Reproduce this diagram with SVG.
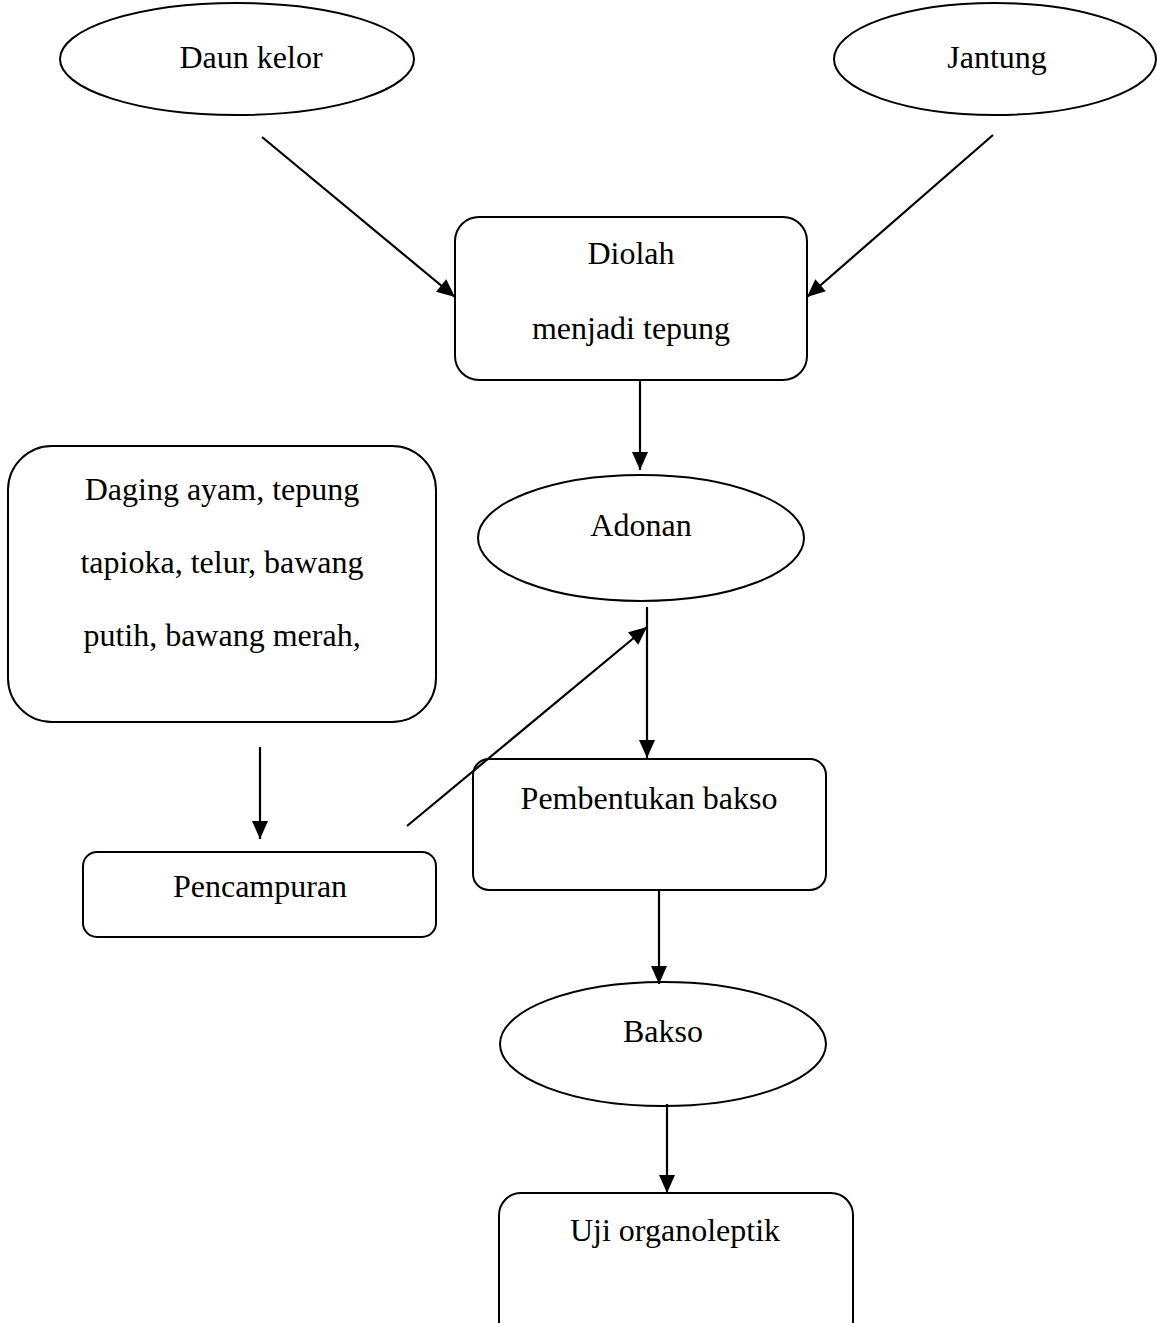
<svg xmlns="http://www.w3.org/2000/svg" width="1157" height="1323" viewBox="0 0 1157 1323">
<defs>
<marker id="ah" markerUnits="userSpaceOnUse" markerWidth="20" markerHeight="18" refX="18" refY="9" orient="auto" overflow="visible">
<path d="M0,1 L18,9 L0,17 Z" fill="#000"/>
</marker>
<style>
.n{fill:#fff;stroke:#000;stroke-width:2}
.t{font-family:"Liberation Serif","Times New Roman",serif;font-size:32px;fill:#000;text-anchor:middle}
.c{stroke:#000;stroke-width:2.2;fill:none;marker-end:url(#ah)}
</style>
</defs>
<rect width="1157" height="1323" fill="#fff"/>
<g id="daun-kelor">
<ellipse class="n" cx="237" cy="59" rx="177" ry="56"/>
<text class="t" x="251" y="68">Daun kelor</text>
</g>
<g id="jantung">
<ellipse class="n" cx="995" cy="59" rx="161" ry="56"/>
<text class="t" x="997" y="68">Jantung</text>
</g>
<g id="diolah">
<rect class="n" x="455" y="217" width="352" height="163" rx="24"/>
<text class="t" x="631" y="264">Diolah</text>
<text class="t" x="631" y="339">menjadi tepung</text>
</g>
<g id="bahan">
<rect class="n" x="8" y="446" width="428" height="276" rx="44"/>
<text class="t" x="222" y="500">Daging ayam, tepung</text>
<text class="t" x="222" y="573">tapioka, telur, bawang</text>
<text class="t" x="222" y="646">putih, bawang merah,</text>
</g>
<g id="adonan">
<ellipse class="n" cx="641" cy="538" rx="163" ry="63"/>
<text class="t" x="641" y="536">Adonan</text>
</g>
<g id="pencampuran">
<rect class="n" x="83" y="852" width="353" height="85" rx="14"/>
<text class="t" x="260" y="897">Pencampuran</text>
</g>
<g id="pembentukan">
<rect class="n" x="473" y="759" width="353" height="131" rx="16"/>
<text class="t" x="649" y="809">Pembentukan bakso</text>
</g>
<g id="bakso">
<ellipse class="n" cx="663" cy="1044" rx="163" ry="62"/>
<text class="t" x="663" y="1042">Bakso</text>
</g>
<g id="uji">
<rect class="n" x="499" y="1193" width="354" height="150" rx="22"/>
<text class="t" x="675" y="1241">Uji organoleptik</text>
</g>
<g id="connectors">
<line class="c" x1="262" y1="137" x2="455" y2="297"/>
<line class="c" x1="993" y1="135" x2="807" y2="297"/>
<line class="c" x1="640" y1="380" x2="640" y2="470"/>
<line class="c" x1="647" y1="607" x2="647" y2="758"/>
<line class="c" x1="407" y1="826" x2="647" y2="627"/>
<line class="c" x1="260" y1="747" x2="260" y2="839"/>
<line class="c" x1="659" y1="890" x2="659" y2="984"/>
<line class="c" x1="667" y1="1104" x2="667" y2="1193"/>
</g>
</svg>
